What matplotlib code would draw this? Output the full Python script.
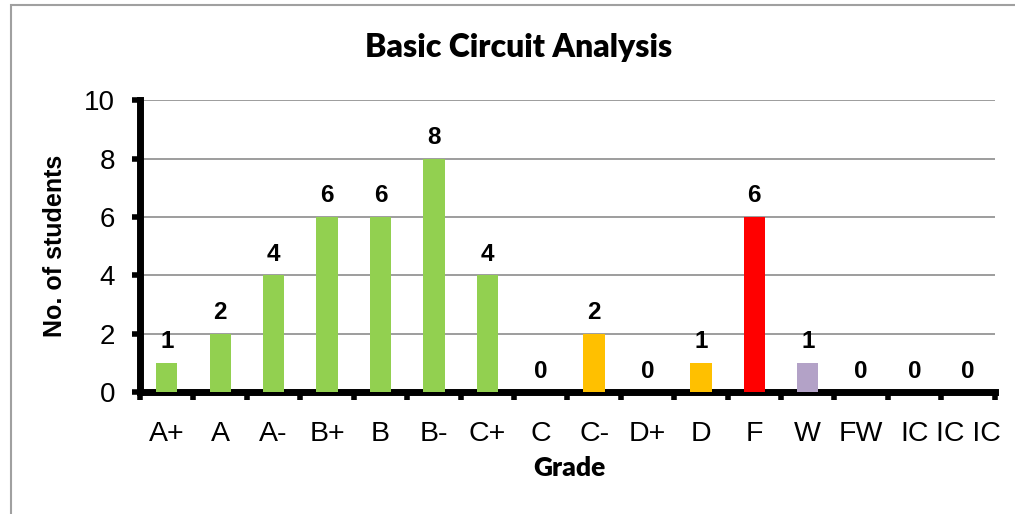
import matplotlib.pyplot as plt
from matplotlib.patches import Rectangle

grades = ['A+', 'A', 'A-', 'B+', 'B', 'B-', 'C+', 'C', 'C-', 'D+', 'D', 'F', 'W', 'FW', 'IC', 'IC IC']
students = [1, 2, 4, 6, 6, 8, 4, 0, 2, 0, 1, 6, 1, 0, 0, 0]
colors = ['#92D050'] * 7 + ['#FFC000'] * 4 + ['#FF0000', '#B3A2C7'] + ['#92D050'] * 3

fig = plt.figure(figsize=(10.15, 5.14), dpi=100)
ax = fig.add_axes([0.138, 0.237, 0.842, 0.568])

x = range(len(grades))
ax.bar(x, students, width=0.40, color=colors, zorder=3)
for xi, v in zip(x, students):
    ax.text(xi, v + 0.5, str(v), ha='center', va='baseline',
            fontsize=17.5, fontweight='bold', family='Liberation Sans')

ax.set_xlim(-0.5, len(grades) - 0.5)
ax.set_ylim(0, 10)
ax.set_yticks(range(0, 11, 2))
ax.set_xticks(x)
ax.set_xticklabels(grades)
ax.set_xticks([i - 0.5 for i in range(len(grades) + 1)], minor=True)
ax.tick_params(axis='x', which='major', length=0, pad=21, labelsize=20.5)
ax.tick_params(axis='x', which='minor', length=6, width=4, direction='out')
ax.tick_params(axis='y', length=6, width=4, direction='out', pad=12, labelsize=20)
for lab in ax.get_xticklabels() + ax.get_yticklabels():
    lab.set_family('Liberation Sans')

ax.grid(axis='y', color='#8C8C8C', linewidth=1.2, zorder=0)
for s in ['top', 'right']:
    ax.spines[s].set_visible(False)
ax.spines['left'].set_linewidth(5)
ax.spines['bottom'].set_linewidth(5)

ax.set_ylabel('No. of students', fontsize=18, fontweight='bold', family='Liberation Sans', labelpad=12)
fig.text(0.561, 0.089, 'Grade', ha='center', va='center',
         fontsize=19, fontweight='heavy', family='Lato')
fig.text(0.511, 0.908, 'Basic Circuit Analysis', ha='center', va='center',
         fontsize=23, fontweight='heavy', family='Lato')

# chart frame
fig.patches.append(Rectangle((0.011, -0.1), 1.1, 1.09, transform=fig.transFigure,
                             fill=False, edgecolor='#A0A0A0', linewidth=1.5))

fig.savefig('out.png', dpi=100)
